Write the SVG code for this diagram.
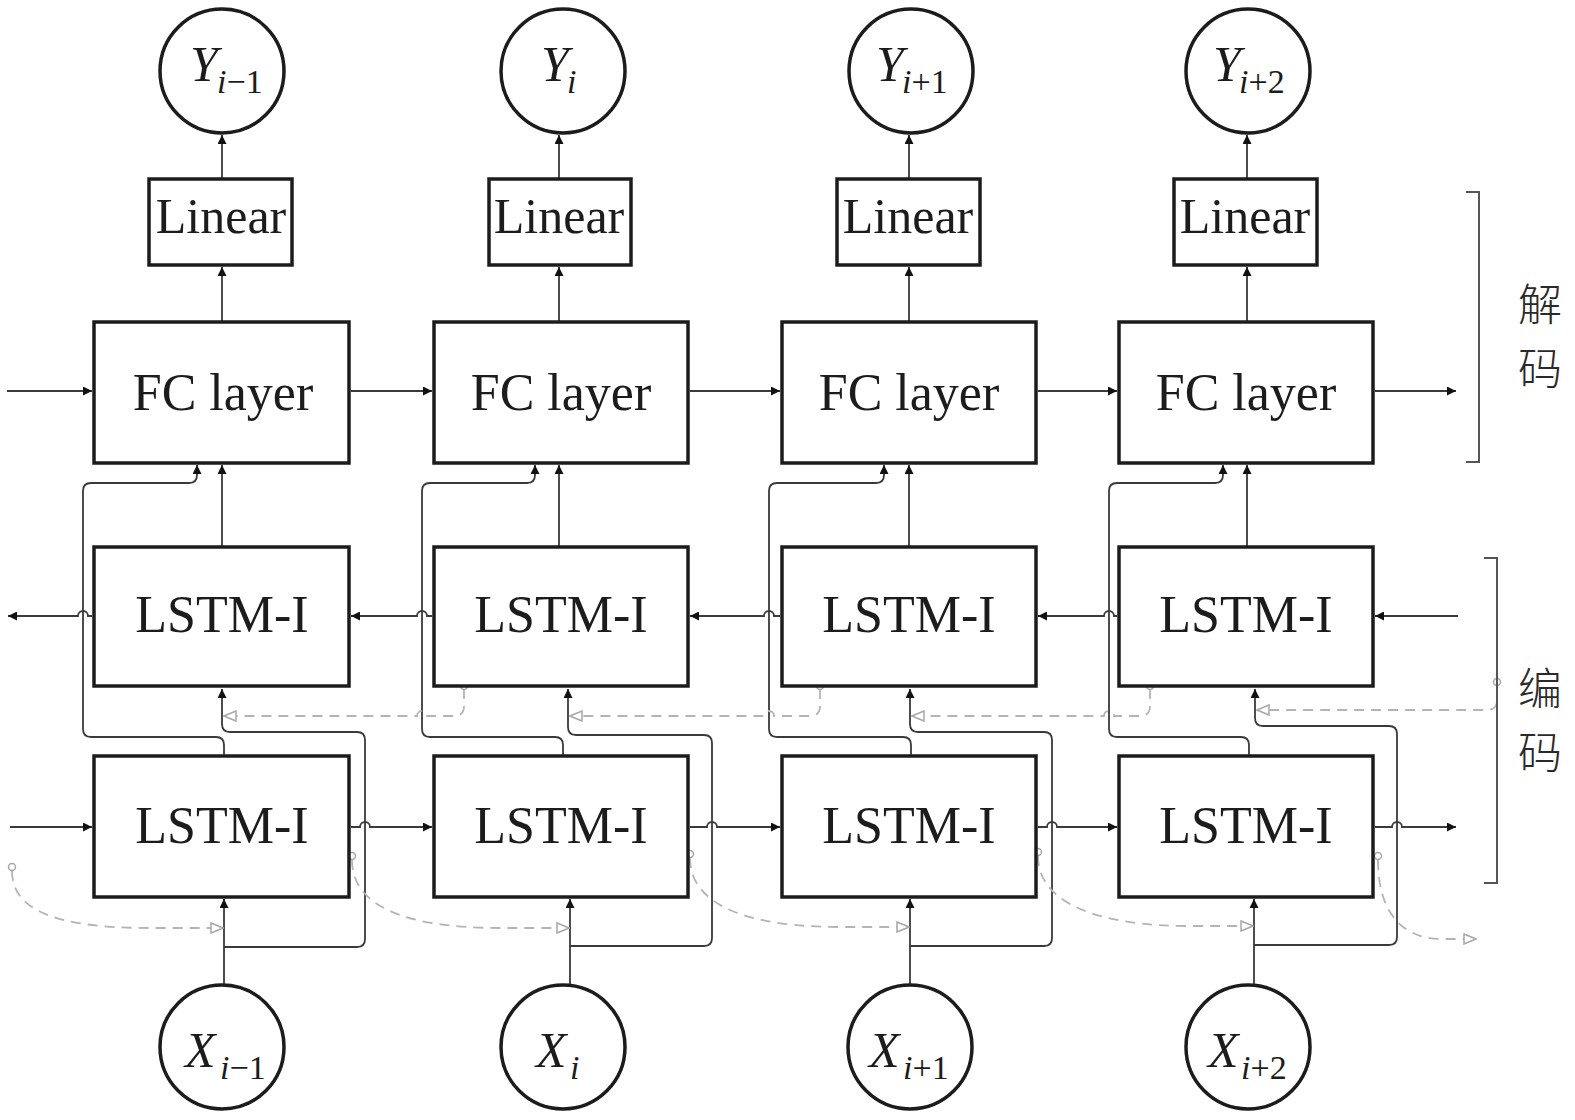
<svg xmlns="http://www.w3.org/2000/svg" width="1575" height="1120" viewBox="0 0 1575 1120">
<style>
.box{fill:#fff;stroke:#1c1c1c;stroke-width:3.5}
.circ{fill:#fff;stroke:#1c1c1c;stroke-width:3.5}
.lbl{font-family:"Liberation Serif","Times New Roman",serif;fill:#1c1c1c;text-anchor:middle}
.big{font-size:52px}
.lin{font-size:50px}
.var{font-family:"Liberation Serif","Times New Roman",serif;fill:#1c1c1c;font-size:50px}
.it{font-style:italic}
.sub{font-size:34px}
.cn{font-family:"Noto Sans CJK SC","Noto Sans CJK JP",sans-serif;font-size:44px;fill:#2a2a2a;text-anchor:middle;font-weight:300}
.c{fill:none;stroke:#3a3a3a;stroke-width:1.8}
.d{fill:none;stroke:#b4b4b4;stroke-width:1.8;stroke-dasharray:10 7}
.dot{fill:#fff;stroke:#a8a8a8;stroke-width:1.5}
.br{fill:none;stroke:#555;stroke-width:2}
</style>
<defs>
<marker id="a" viewBox="0 0 10 10" refX="10" refY="5" markerWidth="10" markerHeight="9" orient="auto" markerUnits="userSpaceOnUse"><path d="M0,0 L10,5 L0,10 z" fill="#111"/></marker>
<marker id="o" viewBox="0 0 14 12" refX="13" refY="6" markerWidth="14" markerHeight="12" orient="auto" markerUnits="userSpaceOnUse"><path d="M1,1 L13,6 L1,11 z" fill="#fff" stroke="#a8a8a8" stroke-width="1.5"/></marker>
</defs>

<g id="connectors">
<path class="c" marker-end="url(#a)" d="M222,179 V135"/>
<path class="c" marker-end="url(#a)" d="M559,179 V135"/>
<path class="c" marker-end="url(#a)" d="M909,179 V135"/>
<path class="c" marker-end="url(#a)" d="M1247,179 V135"/>
<path class="c" marker-end="url(#a)" d="M222,322 V267"/>
<path class="c" marker-end="url(#a)" d="M559,322 V267"/>
<path class="c" marker-end="url(#a)" d="M909,322 V267"/>
<path class="c" marker-end="url(#a)" d="M1247,322 V267"/>
<path class="c" marker-end="url(#a)" d="M222,547 V465"/>
<path class="c" marker-end="url(#a)" d="M559,547 V465"/>
<path class="c" marker-end="url(#a)" d="M909,547 V465"/>
<path class="c" marker-end="url(#a)" d="M1247,547 V465"/>
<path class="c" marker-end="url(#a)" d="M224,756 V745 Q224,737 216,737 H91 Q83,737 83,729 V491 Q83,483 91,483 H189 Q197,483 197,475 V465"/>
<path class="c" marker-end="url(#a)" d="M563,756 V745 Q563,737 555,737 H430 Q422,737 422,729 V491 Q422,483 430,483 H527 Q535,483 535,475 V465"/>
<path class="c" marker-end="url(#a)" d="M911,756 V745 Q911,737 903,737 H777 Q769,737 769,729 V491 Q769,483 777,483 H876 Q884,483 884,475 V465"/>
<path class="c" marker-end="url(#a)" d="M1249,756 V745 Q1249,737 1241,737 H1117 Q1109,737 1109,729 V491 Q1109,483 1117,483 H1215 Q1223,483 1223,475 V465"/>
<path class="c" marker-end="url(#a)" d="M224,985 V899"/>
<path class="c" marker-end="url(#a)" d="M570,985 V899"/>
<path class="c" marker-end="url(#a)" d="M910,985 V899"/>
<path class="c" marker-end="url(#a)" d="M1254,985 V899"/>
<path class="c" marker-end="url(#a)" d="M224,947 H357 Q365,947 365,939 V740 Q365,732 357,732 H230 Q222,732 222,724 V689"/>
<path class="c" marker-end="url(#a)" d="M570,946 H704 Q712,946 712,938 V743 Q712,735 704,735 H576 Q568,735 568,727 V689"/>
<path class="c" marker-end="url(#a)" d="M910,946 H1044 Q1052,946 1052,938 V740 Q1052,732 1044,732 H918 Q910,732 910,724 V689"/>
<path class="c" marker-end="url(#a)" d="M1254,945 H1389 Q1397,945 1397,937 V734 Q1397,726 1389,726 H1263 Q1255,726 1255,718 V689"/>
<path class="c" marker-end="url(#a)" d="M7,391 H92"/>
<path class="c" marker-end="url(#a)" d="M351,391 H432"/>
<path class="c" marker-end="url(#a)" d="M690,391 H780"/>
<path class="c" marker-end="url(#a)" d="M1038,391 H1117"/>
<path class="c" marker-end="url(#a)" d="M1375,391 H1456"/>
<path class="c" marker-end="url(#a)" d="M1458,616 H1375"/>
<path class="c" marker-end="url(#a)" d="M1117,616 H1114 A5,5 0 0 0 1104,616 H1038"/>
<path class="c" marker-end="url(#a)" d="M780,616 H774 A5,5 0 0 0 764,616 H690"/>
<path class="c" marker-end="url(#a)" d="M432,616 H427 A5,5 0 0 0 417,616 H351"/>
<path class="c" marker-end="url(#a)" d="M92,616 H88 A5,5 0 0 0 78,616 H8"/>
<path class="c" marker-end="url(#a)" d="M10,827 H92"/>
<path class="c" marker-end="url(#a)" d="M351,827 H360 A5,5 0 0 1 370,827 H432"/>
<path class="c" marker-end="url(#a)" d="M690,827 H707 A5,5 0 0 1 717,827 H780"/>
<path class="c" marker-end="url(#a)" d="M1038,827 H1047 A5,5 0 0 1 1057,827 H1117"/>
<path class="c" marker-end="url(#a)" d="M1375,827 H1392 A5,5 0 0 1 1402,827 H1456"/>
<path class="d" marker-end="url(#o)" d="M464,689 V706 Q464,716 454,716 H427 A5,5 0 0 0 417,716 H224"/>
<path class="d" marker-end="url(#o)" d="M820,689 V706 Q820,716 810,716 H774 A5,5 0 0 0 764,716 H570"/>
<path class="d" marker-end="url(#o)" d="M1150,689 V706 Q1150,716 1140,716 H1114 A5,5 0 0 0 1104,716 H912"/>
<path class="d" marker-end="url(#o)" d="M1497,686 V700 Q1497,710 1487,710 H1257"/>
<circle class="dot" cx="464" cy="686" r="3.5"/>
<circle class="dot" cx="820" cy="686" r="3.5"/>
<circle class="dot" cx="1150" cy="686" r="3.5"/>
<circle class="dot" cx="1497" cy="682" r="3.5"/>
<path class="d" marker-end="url(#o)" d="M12,871 C12,912 60,928 150,928 H223"/>
<path class="d" marker-end="url(#o)" d="M352,860 C352,908 410,928 500,928 H569"/>
<path class="d" marker-end="url(#o)" d="M690,858 C690,906 750,927 840,927 H909"/>
<path class="d" marker-end="url(#o)" d="M1038,856 C1038,904 1100,926 1190,926 H1253"/>
<path class="d" marker-end="url(#o)" d="M1378,860 C1378,910 1400,938 1440,939 H1476"/>
<circle class="dot" cx="12" cy="867" r="3.5"/>
<circle class="dot" cx="352" cy="856" r="3.5"/>
<circle class="dot" cx="690" cy="854" r="3.5"/>
<circle class="dot" cx="1038" cy="852" r="3.5"/>
<circle class="dot" cx="1378" cy="856" r="3.5"/>
</g>

<g id="decoder-label">
<path class="br" d="M1466,192 H1479 V462 H1466"/>
<text class="cn" x="1540" y="321">解</text>
<text class="cn" x="1540" y="385">码</text>
</g>
<g id="encoder-label">
<path class="br" d="M1484,558 H1497 V883 H1484"/>
<text class="cn" x="1540" y="705">编</text>
<text class="cn" x="1540" y="769">码</text>
</g>

<g id="y1"><circle class="circ" cx="222" cy="71" r="62"/><text class="var" x="190" y="81"><tspan class="it">Y</tspan><tspan class="sub it" x="217" y="93">i</tspan><tspan class="sub">−1</tspan></text></g>
<g id="y2"><circle class="circ" cx="563" cy="71" r="62"/><text class="var" x="541" y="81"><tspan class="it">Y</tspan><tspan class="sub it" x="567" y="93">i</tspan></text></g>
<g id="y3"><circle class="circ" cx="911" cy="71" r="62"/><text class="var" x="876" y="81"><tspan class="it">Y</tspan><tspan class="sub it" x="902" y="93">i</tspan><tspan class="sub">+1</tspan></text></g>
<g id="y4"><circle class="circ" cx="1248" cy="71" r="62"/><text class="var" x="1213" y="81"><tspan class="it">Y</tspan><tspan class="sub it" x="1239" y="93">i</tspan><tspan class="sub">+2</tspan></text></g>

<g id="lin1"><rect class="box" x="149" y="179" width="143" height="86"/><text class="lbl lin" x="221" y="233">Linear</text></g>
<g id="lin2"><rect class="box" x="489" y="179" width="142" height="86"/><text class="lbl lin" x="559" y="233">Linear</text></g>
<g id="lin3"><rect class="box" x="837" y="179" width="143" height="86"/><text class="lbl lin" x="908" y="233">Linear</text></g>
<g id="lin4"><rect class="box" x="1174" y="179" width="143" height="86"/><text class="lbl lin" x="1245" y="233">Linear</text></g>

<g id="fc1"><rect class="box" x="94" y="322" width="255" height="141"/><text class="lbl big" x="223" y="410">FC layer</text></g>
<g id="fc2"><rect class="box" x="434" y="322" width="254" height="141"/><text class="lbl big" x="561" y="410">FC layer</text></g>
<g id="fc3"><rect class="box" x="782" y="322" width="254" height="141"/><text class="lbl big" x="909" y="410">FC layer</text></g>
<g id="fc4"><rect class="box" x="1119" y="322" width="254" height="141"/><text class="lbl big" x="1246" y="410">FC layer</text></g>

<g id="up1"><rect class="box" x="94" y="547" width="255" height="139"/><text class="lbl big" x="222" y="632">LSTM-I</text></g>
<g id="up2"><rect class="box" x="434" y="547" width="254" height="139"/><text class="lbl big" x="561" y="632">LSTM-I</text></g>
<g id="up3"><rect class="box" x="782" y="547" width="254" height="139"/><text class="lbl big" x="909" y="632">LSTM-I</text></g>
<g id="up4"><rect class="box" x="1119" y="547" width="254" height="139"/><text class="lbl big" x="1246" y="632">LSTM-I</text></g>

<g id="lo1"><rect class="box" x="94" y="756" width="255" height="141"/><text class="lbl big" x="222" y="843">LSTM-I</text></g>
<g id="lo2"><rect class="box" x="434" y="756" width="254" height="141"/><text class="lbl big" x="561" y="843">LSTM-I</text></g>
<g id="lo3"><rect class="box" x="782" y="756" width="254" height="141"/><text class="lbl big" x="909" y="843">LSTM-I</text></g>
<g id="lo4"><rect class="box" x="1119" y="756" width="254" height="141"/><text class="lbl big" x="1246" y="843">LSTM-I</text></g>

<g id="x1"><circle class="circ" cx="222" cy="1047" r="62"/><text class="var" x="185" y="1067"><tspan class="it">X</tspan><tspan class="sub it" x="220" y="1079">i</tspan><tspan class="sub">−1</tspan></text></g>
<g id="x2"><circle class="circ" cx="563" cy="1047" r="62"/><text class="var" x="536" y="1067"><tspan class="it">X</tspan><tspan class="sub it" x="570" y="1079">i</tspan></text></g>
<g id="x3"><circle class="circ" cx="910" cy="1047" r="62"/><text class="var" x="869" y="1067"><tspan class="it">X</tspan><tspan class="sub it" x="903" y="1079">i</tspan><tspan class="sub">+1</tspan></text></g>
<g id="x4"><circle class="circ" cx="1248" cy="1047" r="62"/><text class="var" x="1208" y="1067"><tspan class="it">X</tspan><tspan class="sub it" x="1241" y="1079">i</tspan><tspan class="sub">+2</tspan></text></g>
</svg>
